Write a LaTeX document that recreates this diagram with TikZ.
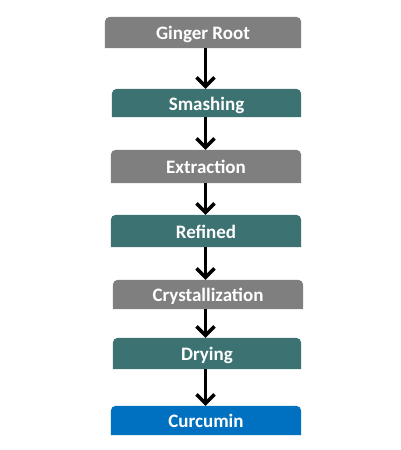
\documentclass[tikz,border=0pt]{standalone}
\usepackage{fontspec}
\setmainfont{Carlito}
\usetikzlibrary{arrows.meta,backgrounds}
\definecolor{boxgray}{HTML}{7F7F7F}
\definecolor{boxteal}{HTML}{3C7272}
\definecolor{boxblue}{HTML}{0070C0}
\tikzset{
  stepbox/.style={inner sep=0pt, text=white, font=\fontsize{19}{21}\selectfont\bfseries, anchor=center, text height=14pt, text depth=0pt},
  arr/.style={line width=3.4pt, -{Straight Barb[length=9pt,width=18pt]}},
}
\newcommand{\topround}[2]{\fill[#2] (#1.south west) [rounded corners=5pt] -- (#1.north west) -- (#1.north east) [sharp corners] -- (#1.south east) -- cycle;}
\begin{document}
\begin{tikzpicture}[x=1pt,y=-1pt]
\useasboundingbox (0,0) rectangle (400,450);
\node[stepbox, minimum width=196pt, minimum height=31pt] (n1) at (203,32.5) {Ginger Root};
\node[stepbox, minimum width=189pt, minimum height=28pt] (n2) at (206.5,103) {Smashing};
\node[stepbox, minimum width=190pt, minimum height=33pt] (n3) at (206,166.5) {Extraction};
\node[stepbox, minimum width=190pt, minimum height=32pt] (n4) at (206,231) {Refined};
\node[stepbox, minimum width=190pt, minimum height=29pt] (n5) at (208,294.5) {Crystallization};
\node[stepbox, minimum width=188pt, minimum height=31pt] (n6) at (207,353.5) {Drying};
\node[stepbox, minimum width=190pt, minimum height=29pt] (n7) at (206,420.5) {Curcumin};
\begin{scope}[on background layer]
\topround{n1}{boxgray}
\topround{n2}{boxteal}
\topround{n3}{boxgray}
\topround{n4}{boxteal}
\topround{n5}{boxgray}
\topround{n6}{boxteal}
\topround{n7}{boxblue}
\end{scope}
\coordinate (ax) at (205.5,0);
\draw[arr] (n1.south -| ax) -- (n2.north -| ax);
\draw[arr] (n2.south -| ax) -- (n3.north -| ax);
\draw[arr] (n3.south -| ax) -- (n4.north -| ax);
\draw[arr] (n4.south -| ax) -- (n5.north -| ax);
\draw[arr] (n5.south -| ax) -- (n6.north -| ax);
\draw[arr] (n6.south -| ax) -- (n7.north -| ax);
\end{tikzpicture}
\end{document}
